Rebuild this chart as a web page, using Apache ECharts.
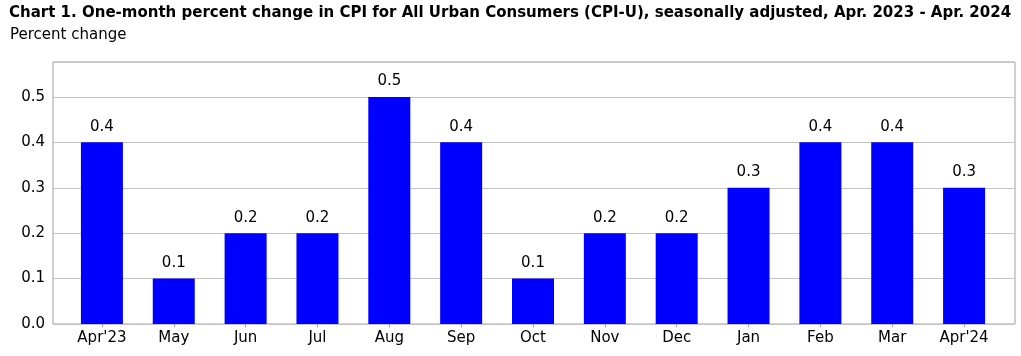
<!DOCTYPE html>
<html><head><meta charset="utf-8">
<script src="https://cdn.jsdelivr.net/npm/echarts@6/dist/echarts.min.js"></script>
<style>html,body{margin:0;padding:0;background:#fff}#c{width:1021px;height:356px}</style>
</head><body><div id="c"></div>
<script>
const titleText = "Chart 1. One-month percent change in CPI for All Urban Consumers (CPI-U), seasonally adjusted, Apr. 2023 - Apr. 2024";
const subtitleText = "Percent change";
const categories = ["Apr'23","May","Jun","Jul","Aug","Sep","Oct","Nov","Dec","Jan","Feb","Mar","Apr'24"];
const values = [0.4,0.1,0.2,0.2,0.5,0.4,0.1,0.2,0.2,0.3,0.4,0.4,0.3];
const yMin = 0, yMax = 0.577, yInterval = 0.1;

const FONT = "DejaVu Sans";
const chart = echarts.init(document.getElementById('c'), null, {renderer:'canvas'});
chart.setOption({
  animation:false,
  textStyle:{fontFamily:FONT},
  title:[
    {text:titleText, left:9, top:6, padding:0, textStyle:{fontFamily:FONT, fontWeight:'bold', fontSize:15, color:'#000'}},
    {text:subtitleText, left:10, top:28, padding:0, textStyle:{fontFamily:FONT, fontWeight:'normal', fontSize:15, color:'#000'}}
  ],
  grid:[
    {left:53, right:6, top:62, bottom:32, show:true, borderColor:'#a0a0a0', borderWidth:1, backgroundColor:'transparent'},
    {left:66, right:21, top:62, bottom:32}
  ],
  xAxis:[
    {type:'value', gridIndex:0, min:0, max:1, show:false},
    {type:'category', gridIndex:1, data:categories, boundaryGap:true,
     axisLine:{show:false},
     axisTick:{show:true, alignWithLabel:true, length:3, lineStyle:{color:'#a0a0a0'}},
     axisLabel:{color:'#000', fontSize:15, fontFamily:FONT, margin:7, interval:0}}
  ],
  yAxis:[
    {type:'value', gridIndex:0, min:yMin, max:yMax, interval:yInterval,
     axisLine:{show:false}, axisTick:{show:false},
     axisLabel:{color:'#000', fontSize:15, fontFamily:FONT, margin:8, showMaxLabel:false,
       formatter:v=>v.toFixed(1)},
     splitLine:{show:true, lineStyle:{color:'#c4c4c4', width:1}}},
    {type:'value', gridIndex:1, min:yMin, max:yMax, show:false, splitLine:{show:false}}
  ],
  series:[{
    type:'bar', xAxisIndex:1, yAxisIndex:1, data:values, barWidth:42,
    itemStyle:{color:'#0000ff'},
    label:{show:true, position:'top', distance:8, color:'#000', fontSize:15, fontFamily:FONT,
      formatter:p=>p.value.toFixed(1)}
  }]
});
</script></body></html>
